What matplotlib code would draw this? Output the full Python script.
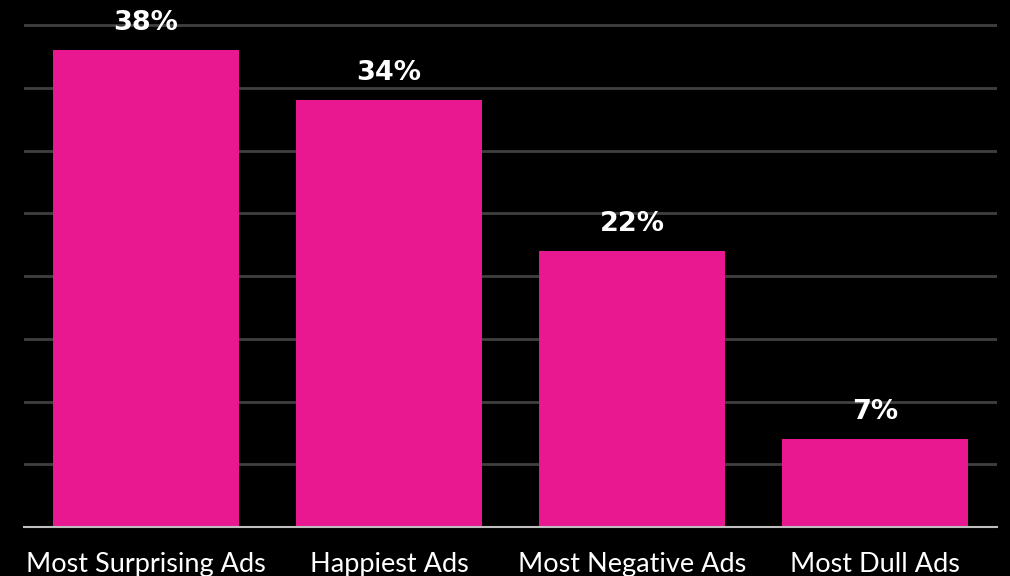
import matplotlib
matplotlib.use("Agg")
import matplotlib.pyplot as plt

# ── Data ──────────────────────────────────────────────────────────────────────
categories = ["Most Surprising Ads", "Happiest Ads", "Most Negative Ads", "Most Dull Ads"]
shares = [38, 34, 22, 7]

C_BG = "#000000"
C_BAR = "#EA1890"
C_GRID = "#404040"
C_BASE = "#BFBFBF"

fig = plt.figure(figsize=(10.10, 5.76), dpi=100, facecolor=C_BG)
ax = fig.add_axes([24 / 1010, 49 / 576, 973 / 1010, 527 / 576])
ax.set_facecolor(C_BG)

x = range(len(categories))
bars = ax.bar(x, shares, width=0.765, color=C_BAR, zorder=2)

# value labels above each bar
for bar, v in zip(bars, shares):
    ax.annotate(f"{v}%", (bar.get_x() + bar.get_width() / 2, bar.get_height()),
                xytext=(0, 19.5), textcoords="offset points", ha="center", va="center",
                color="white", fontsize=19.5, fontweight="bold", family="DejaVu Sans")

ax.set_xlim(-0.5, len(categories) - 0.5)
ax.set_ylim(0, 42)
ax.set_yticks(range(5, 41, 5))
ax.yaxis.grid(True, color=C_GRID, linewidth=2, zorder=0)
ax.tick_params(axis="y", length=0, labelleft=False)
ax.tick_params(axis="x", length=0, pad=18, labelsize=19.5, labelcolor="white")
ax.set_xticks(list(x))
ax.set_xticklabels(categories, family="Lato")

for side in ("top", "right", "left"):
    ax.spines[side].set_visible(False)
ax.spines["bottom"].set_color(C_BASE)
ax.spines["bottom"].set_linewidth(1.5)
ax.spines["bottom"].set_zorder(3)

fig.savefig("out.png", dpi=100, facecolor=C_BG)
